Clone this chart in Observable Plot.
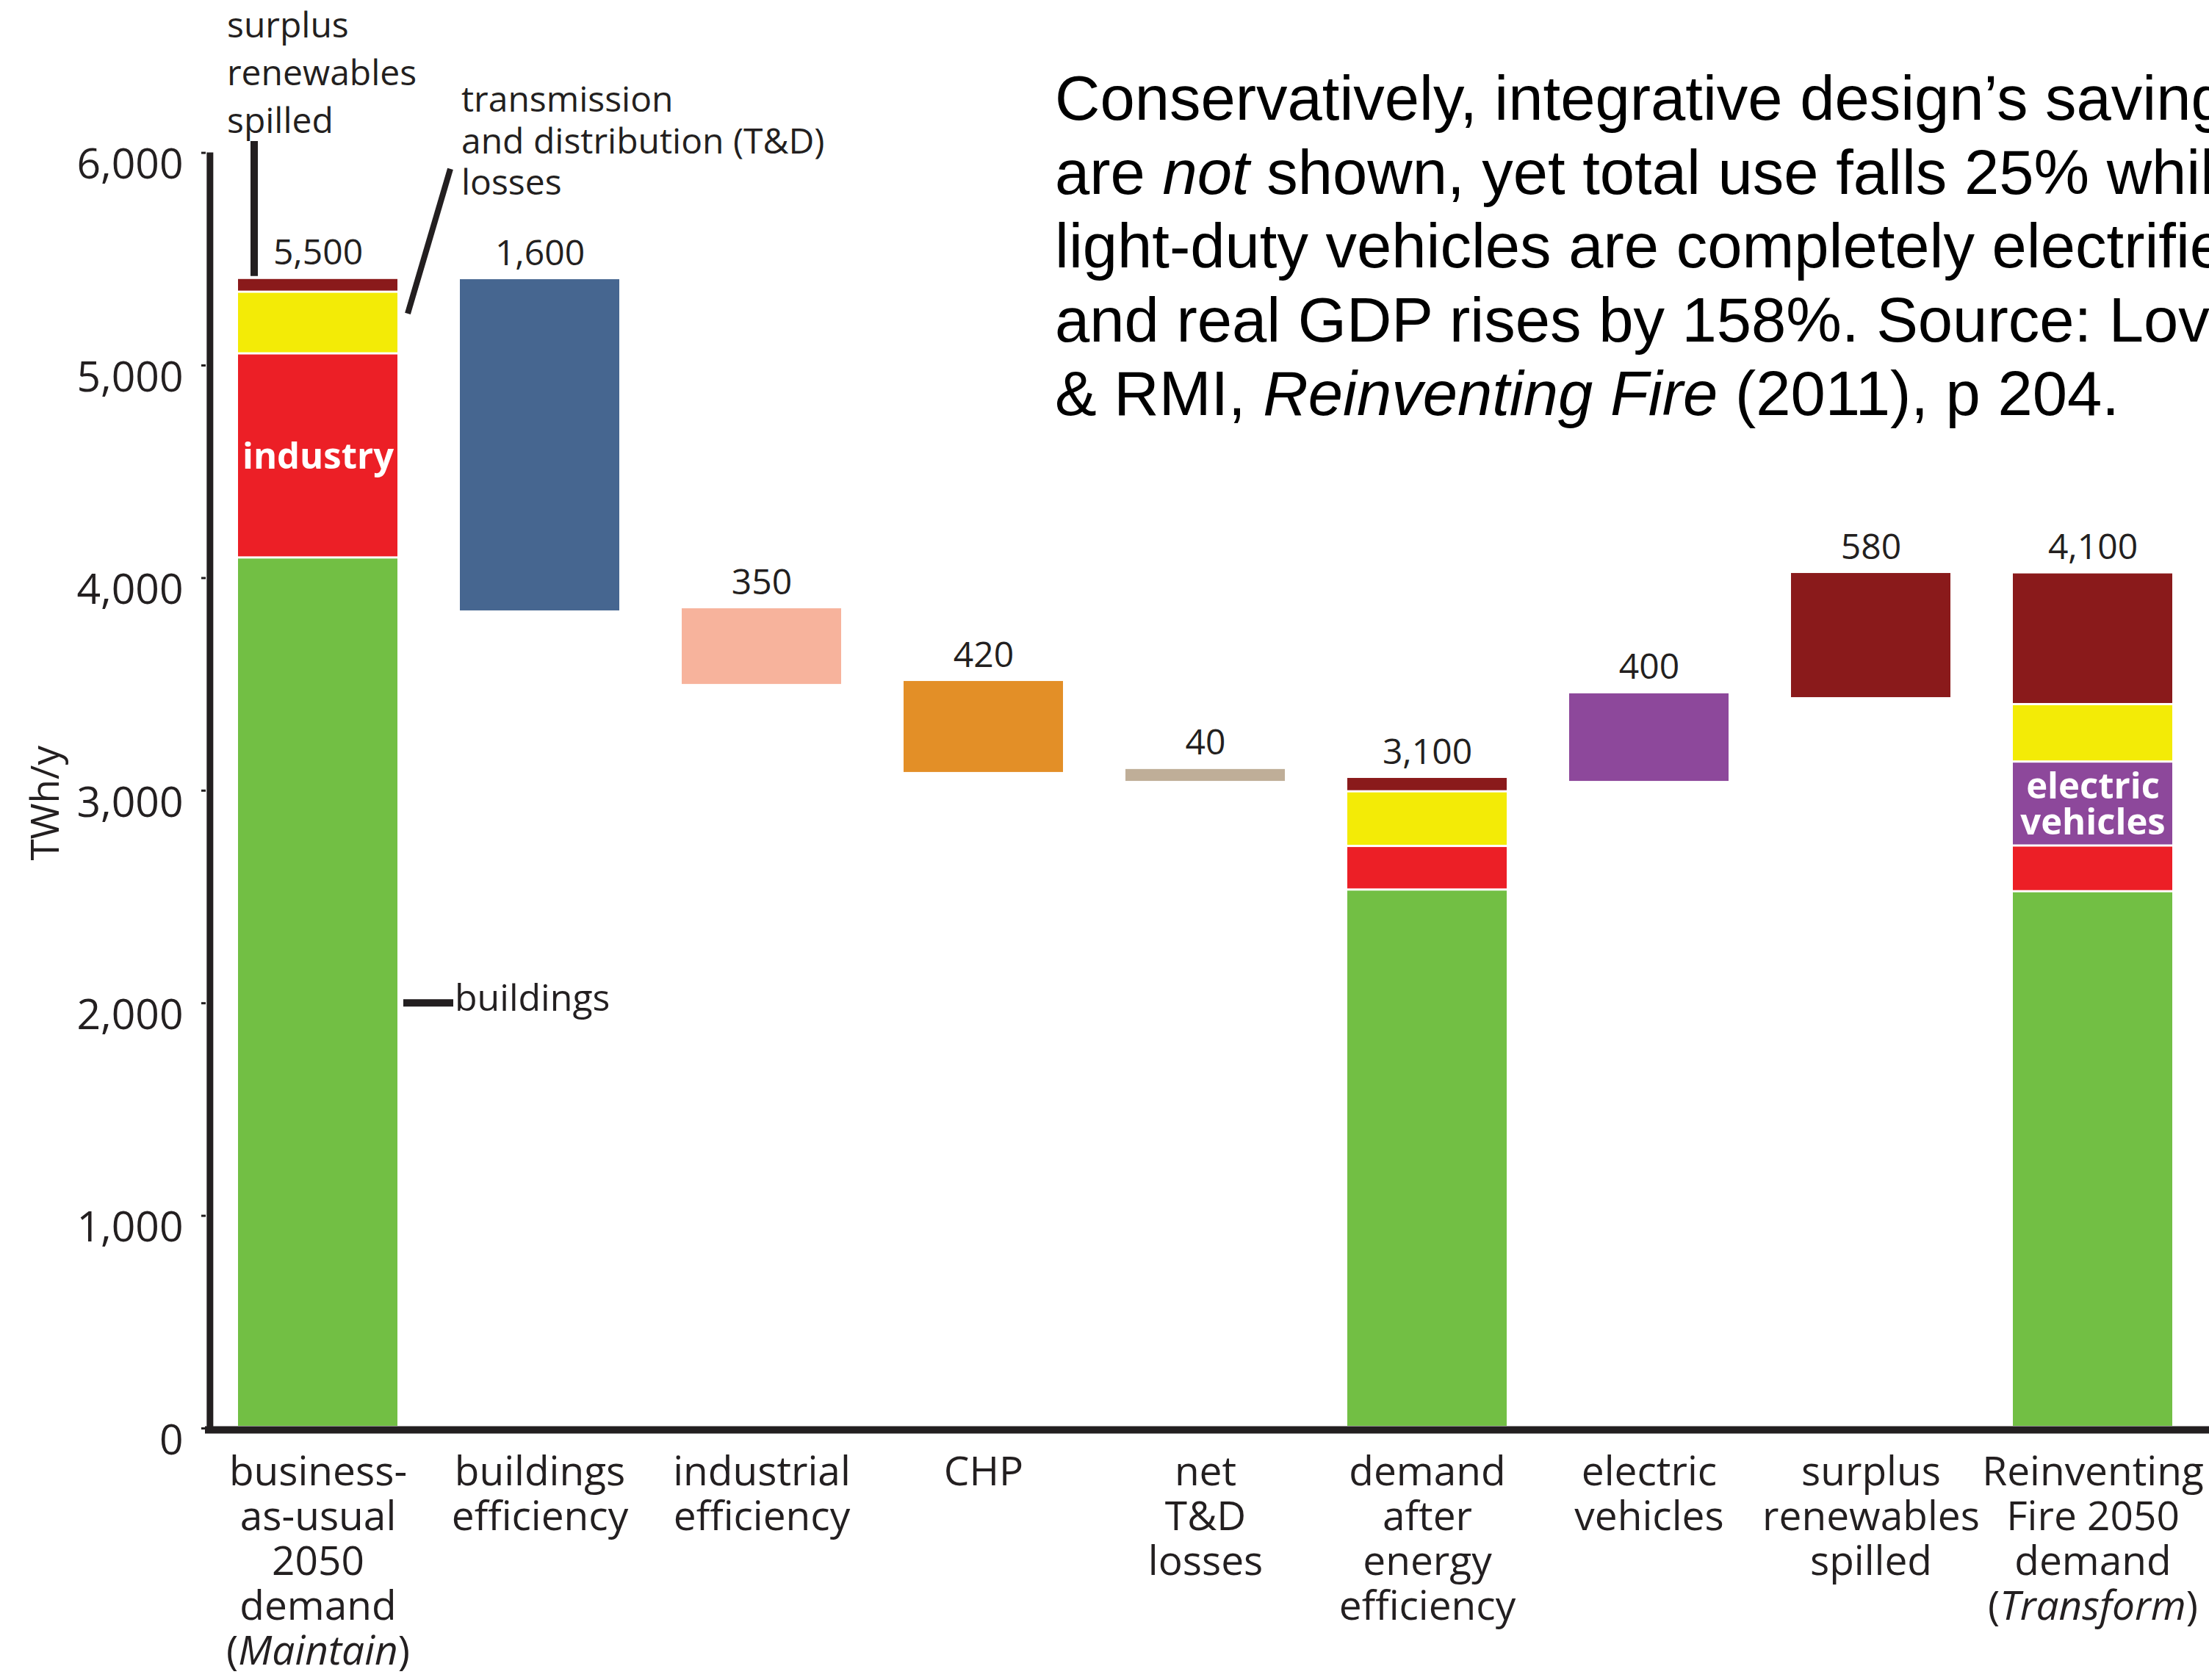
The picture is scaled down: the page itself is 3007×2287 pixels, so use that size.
<!DOCTYPE html>
<html>
<head>
<meta charset="utf-8">
<script src="https://cdn.jsdelivr.net/npm/d3@7"></script>
<script src="https://cdn.jsdelivr.net/npm/@observablehq/plot@0.6"></script>
<style>
  html, body { margin: 0; padding: 0; overflow: hidden; background: #fff; }
  #wrap { position: relative; width: 3007px; height: 2287px; overflow: hidden; background: #fff; }
  #chart svg { display: block; }
  #note {
    position: absolute; left: 1436px; top: 84px;
    font-family: "Liberation Sans", Arial, sans-serif;
    font-size: 85px; line-height: 100.5px; color: #000; white-space: pre;
  }
</style>
</head>
<body>
<div id="wrap">
  <div id="chart"></div>
  <div id="note"></div>
</div>
<script>
// ---------------- data ----------------
const categories = ["bau", "bldg", "ind", "chp", "td", "after", "ev", "surplus", "rf"];
const categoryLabels = [
  "business-\nas-usual\n2050\ndemand\n(Maintain)",
  "buildings\nefficiency",
  "industrial\nefficiency",
  "CHP",
  "net\nT&D\nlosses",
  "demand\nafter\nenergy\nefficiency",
  "electric\nvehicles",
  "surplus\nrenewables\nspilled",
  "Reinventing\nFire 2050\ndemand\n(Transform)"
];
const valueLabels = ["5,500", "1,600", "350", "420", "40", "3,100", "400", "580", "4,100"];

// stacked totals (bottom to top)
const segments = ["buildings", "industry", "electric vehicles", "T&D losses", "surplus renewables spilled"];
const bauStack = [4090, 960, 0, 290, 65];
const afterStack = [2528, 205, 0, 257, 68];
const rfStack = [2520, 215, 395, 270, 620];

// floating waterfall steps
const stepCats = ["bldg", "ind", "chp", "td", "ev", "surplus"];
const stepKeys = ["buildings efficiency", "industrial efficiency", "CHP", "net T&D losses", "electric vehicles", "surplus renewables spilled"];
const stepLow = [3846, 3500, 3086, 3044, 3044, 3438];
const stepHigh = [5404, 3856, 3514, 3100, 3456, 4022];

const colorKeys = ["buildings", "industry", "electric vehicles", "T&D losses", "surplus renewables spilled",
  "buildings efficiency", "industrial efficiency", "CHP", "net T&D losses"];
const colorValues = ["#72bf44", "#ec1f26", "#8d489b", "#f3eb06", "#8a1a1b",
  "#466690", "#f7b39c", "#e38f27", "#bfae98"];

const yTicks = [0, 1000, 2000, 3000, 4000, 5000, 6000];

const noteLines = [
  "Conservatively, integrative design’s savings",
  "are <i>not</i> shown, yet total use falls 25% while",
  "light-duty vehicles are completely electrified",
  "and real GDP rises by 158%. Source: Lovins",
  "&amp; RMI, <i>Reinventing Fire</i> (2011), p 204."
];

// ---------------- derived tables ----------------
const stackRows = [];
[["bau", bauStack], ["after", afterStack], ["rf", rfStack]].forEach(([cat, arr]) => {
  arr.forEach((v, j) => { if (v > 0) stackRows.push({cat, seg: segments[j], value: v}); });
});
const stepRows = stepCats.map((c, i) => ({cat: c, key: stepKeys[i], low: stepLow[i], high: stepHigh[i]}));
const sum = a => a.reduce((s, v) => s + v, 0);
const tops = categories.map(c => {
  if (c === "bau") return sum(bauStack);
  if (c === "after") return sum(afterStack);
  if (c === "rf") return sum(rfStack);
  return stepHigh[stepCats.indexOf(c)];
});
const inBarLabels = [
  {cat: "bau", v: bauStack[0] + bauStack[1] / 2, t: "industry"},
  {cat: "rf", v: rfStack[0] + rfStack[1] + rfStack[2] / 2, t: "electric\nvehicles"}
];

// ---------------- layout ----------------
const W = 3007, H = 2287;
const mL = 280, mR = 6, mT = 207.6, mB = 343;
const step = (W - mL - mR) / categories.length;
const axisDx = 4 - step / 2;
const ink = "#231f20";

const chart = Plot.plot({
  width: W, height: H,
  marginLeft: mL, marginRight: mR, marginTop: mT, marginBottom: mB,
  style: {fontFamily: "'Open Sans', sans-serif", fontSize: "55px", color: ink, background: "#fff", overflow: "visible"},
  x: {domain: categories, paddingInner: 0.28, paddingOuter: 0.14, axis: null},
  y: {domain: [0, 6000], label: null},
  color: {domain: colorKeys, range: colorValues},
  marks: [
    Plot.barY(stackRows, {x: "cat", y: "value", fill: "seg", insetBottom: 3}),
    Plot.barY(stepRows, {x: "cat", y1: "low", y2: "high", fill: "key"}),
    Plot.ruleY([0], {stroke: ink, strokeWidth: 10, dy: 2, insetLeft: -1, insetRight: -6}),
    Plot.ruleX(["bau"], {y1: 0, y2: 6000, dx: axisDx, stroke: ink, strokeWidth: 9}),
    Plot.axisY(yTicks, {tickSize: 6, strokeWidth: 3, stroke: ink, fill: "none", label: null}),
    Plot.axisY(yTicks, {tickSize: 6, tickPadding: 25, stroke: "none", fill: ink, tickFormat: d3.format(","), fontSize: 57, dy: 17, label: null}),
    // y axis title
    Plot.text(["TWh/y"], {frameAnchor: "left", rotate: -90, dx: -217, dy: 17, fontSize: 53, fill: ink, textAnchor: "middle", lineAnchor: "middle"}),
    // value labels
    Plot.text(categories, {x: d => d, y: (d, i) => tops[i], text: (d, i) => valueLabels[i], lineAnchor: "bottom", dy: -20, fontSize: 48, fill: ink}),
    // category labels
    Plot.text(categories, {x: d => d, text: (d, i) => categoryLabels[i], frameAnchor: "bottom", lineAnchor: "top", dy: 34, lineHeight: 1.11, fontSize: 55, fill: ink}),
    // in-bar labels
    Plot.text(inBarLabels, {x: "cat", y: "v", text: "t", fill: "white", fontWeight: "bold", fontSize: 49, lineHeight: 1.0, lineAnchor: "middle"}),
    // annotations
    Plot.text(["surplus\nrenewables\nspilled"], {x: () => "bau", y: () => 6095, dx: -124, textAnchor: "start", lineAnchor: "bottom", lineHeight: 1.35, fontSize: 48, fill: ink}),
    Plot.text(["transmission\nand distribution (T&D)\nlosses"], {x: () => "bldg", y: () => 5802, dx: -107, textAnchor: "start", lineAnchor: "bottom", lineHeight: 1.18, fontSize: 48, fill: ink}),
    Plot.text(["buildings"], {x: () => "bau", y: () => 2000, dx: 186, dy: -6, textAnchor: "start", lineAnchor: "middle", fontSize: 50, fill: ink})
  ]
});
document.getElementById("chart").appendChild(chart);

// ---------------- leader lines (via the plot's scales) ----------------
const xs = chart.scale("x"), ys = chart.scale("y");
const bw = xs.bandwidth;
const bauStart = xs.apply("bau");
const bauEnd = bauStart + bw;
const svg = d3.select(chart);
const g = svg.append("g").attr("stroke", ink).attr("fill", "none");
g.append("line").attr("x1", bauStart + 22).attr("x2", bauStart + 22)
  .attr("y1", ys.apply(tops[0]) - 4).attr("y2", ys.apply(6054)).attr("stroke-width", 10);
g.append("line").attr("x1", bauEnd + 14).attr("y1", ys.apply(5242))
  .attr("x2", bauEnd + 72).attr("y2", ys.apply(5923)).attr("stroke-width", 8);
g.append("line").attr("x1", bauEnd + 8).attr("x2", bauEnd + 76)
  .attr("y1", ys.apply(2000)).attr("y2", ys.apply(2000)).attr("stroke-width", 10);

// italic words in category labels
svg.selectAll("tspan").each(function () {
  const m = this.textContent.match(/^\((Maintain|Transform)\)$/);
  if (m) {
    this.textContent = "(";
    const it = document.createElementNS("http://www.w3.org/2000/svg", "tspan");
    it.setAttribute("font-style", "italic");
    it.textContent = m[1];
    this.appendChild(it);
    this.appendChild(document.createTextNode(")"));
  }
});

// ---------------- note ----------------
document.getElementById("note").innerHTML = noteLines.join("\n");
</script>
</body>
</html>
